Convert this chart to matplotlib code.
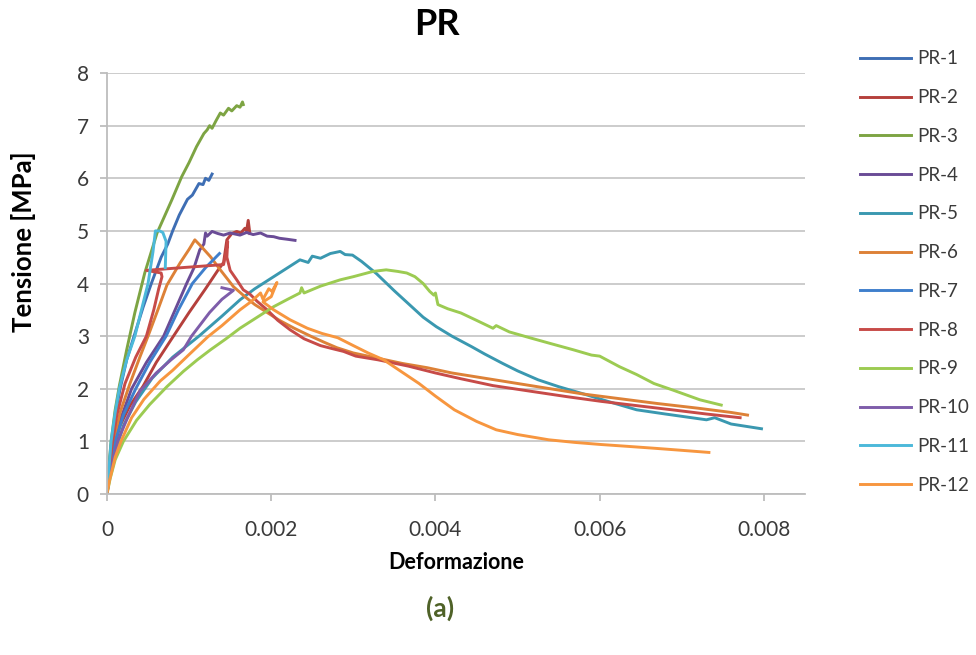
# plot.py - curve tensione/deformazione serie PR
import matplotlib
matplotlib.use("Agg")
import matplotlib.pyplot as plt

OUTPUT_IMG = "out.png"

labels = ["PR-1", "PR-2", "PR-3", "PR-4", "PR-5", "PR-6",
          "PR-7", "PR-8", "PR-9", "PR-10", "PR-11", "PR-12"]
colors = ["#3E6EB4", "#B5403C", "#7DA443", "#6A4C96", "#3A98B0", "#DD8137",
          "#3F7FCC", "#C74B48", "#9CCB52", "#7E5DAA", "#4CB9DA", "#F7963F"]

xticks = [0, 0.002, 0.004, 0.006, 0.008]
xtick_labels = ["0", "0.002", "0.004", "0.006", "0.008"]
yticks = [0, 1, 2, 3, 4, 5, 6, 7, 8]

# deformazione (eps) e tensione in MPa (sig)
eps_pr1 = [0, 0.00002, 0.00005, 0.0001, 0.00016, 0.00024, 0.00033, 0.00044, 0.00054,
           0.00066, 0.00074, 0.0008, 0.00088, 0.00098, 0.00104, 0.00112, 0.00117,
           0.0012, 0.00124, 0.00128]
sig_pr1 = [0, 0.4, 0.9, 1.5, 2.0, 2.55, 3.0, 3.55, 4.0, 4.5, 4.75, 5.0, 5.3, 5.6,
           5.68, 5.9, 5.88, 6.0, 5.96, 6.08]

eps_pr2 = [0, 0.00003, 0.00008, 0.00016, 0.00028, 0.00044, 0.0006, 0.00078, 0.001,
           0.0012, 0.00135, 0.00142, 0.00146, 0.00152, 0.00158, 0.00163, 0.00168,
           0.0017, 0.00172, 0.00174]
sig_pr2 = [0, 0.4, 0.85, 1.3, 1.68, 2.05, 2.5, 2.93, 3.45, 3.9, 4.25, 4.4, 4.83,
           4.95, 4.99, 4.96, 5.05, 5.0, 5.2, 4.95]

eps_pr3 = [0, 0.00002, 0.00005, 0.0001, 0.00015, 0.00024, 0.00034, 0.00046, 0.00061,
           0.00079, 0.00091, 0.001, 0.00109, 0.00118, 0.00122, 0.00125, 0.00128,
           0.00133, 0.00138, 0.00142, 0.00148, 0.00152, 0.00158, 0.00162, 0.00165,
           0.00166]
sig_pr3 = [0, 0.45, 1.0, 1.6, 2.05, 2.74, 3.45, 4.2, 4.96, 5.59, 6.03, 6.3, 6.6,
           6.85, 6.92, 7.0, 6.95, 7.1, 7.24, 7.2, 7.33, 7.28, 7.38, 7.35, 7.45, 7.4]

eps_pr4 = [0, 0.00003, 0.00008, 0.00016, 0.0003, 0.00048, 0.00069, 0.00083, 0.00097,
           0.00106, 0.00113, 0.00118, 0.0012, 0.00122, 0.00128, 0.00135, 0.00142,
           0.0015, 0.00162, 0.0017, 0.00178, 0.00187, 0.00195, 0.00203, 0.0021,
           0.0022, 0.00229]
sig_pr4 = [0, 0.4, 0.9, 1.4, 2.0, 2.5, 3.0, 3.5, 4.0, 4.3, 4.64, 4.75, 4.96, 4.9,
           4.99, 4.95, 4.92, 4.96, 4.92, 4.97, 4.93, 4.96, 4.9, 4.89, 4.86, 4.84, 4.82]

eps_pr5 = [0, 0.00003, 0.0001, 0.0002, 0.00035, 0.00055, 0.0008, 0.00112, 0.0014,
           0.00162, 0.0018, 0.00203, 0.0022, 0.00235, 0.00245, 0.0025, 0.0026,
           0.00272, 0.00284, 0.0029, 0.00299, 0.0031, 0.00328, 0.0035, 0.00371,
           0.00385, 0.00401, 0.0042, 0.00444, 0.0046, 0.00482, 0.005, 0.00525,
           0.0055, 0.00585, 0.0061, 0.00645, 0.0068, 0.0073, 0.0074, 0.0076, 0.00797]
sig_pr5 = [0, 0.3, 0.8, 1.3, 1.75, 2.2, 2.6, 3.0, 3.38, 3.69, 3.9, 4.13, 4.3, 4.45,
           4.4, 4.52, 4.48, 4.57, 4.61, 4.55, 4.54, 4.42, 4.19, 3.86, 3.56, 3.36,
           3.18, 3.0, 2.8, 2.66, 2.48, 2.34, 2.17, 2.04, 1.88, 1.76, 1.6, 1.52,
           1.41, 1.45, 1.33, 1.24]

eps_pr6 = [0, 0.00003, 0.00008, 0.00016, 0.00028, 0.0004, 0.0005, 0.00062, 0.00073,
           0.00089, 0.001, 0.00107, 0.00115, 0.00126, 0.00138, 0.00154, 0.00168,
           0.0018, 0.00195, 0.0021, 0.00228, 0.00248, 0.00265, 0.0028, 0.003,
           0.0033, 0.0036, 0.0039, 0.0042, 0.0046, 0.005, 0.0054, 0.0058, 0.0062,
           0.0067, 0.0072, 0.0076, 0.0078]
sig_pr6 = [0, 0.45, 1.0, 1.55, 2.1, 2.6, 3.0, 3.5, 3.97, 4.39, 4.65, 4.83, 4.7,
           4.51, 4.26, 3.94, 3.75, 3.6, 3.45, 3.3, 3.15, 3.0, 2.88, 2.78, 2.68,
           2.58, 2.48, 2.4, 2.3, 2.2, 2.1, 2.0, 1.9, 1.82, 1.72, 1.63, 1.55, 1.5]

eps_pr7 = [0, 0.00003, 0.0001, 0.0002, 0.00035, 0.00052, 0.00072, 0.00087, 0.00104,
           0.0012, 0.00137]
sig_pr7 = [0, 0.4, 1.0, 1.5, 2.0, 2.5, 3.0, 3.5, 4.0, 4.3, 4.57]

eps_pr8 = [0, 0.00002, 0.00006, 0.00012, 0.00022, 0.00035, 0.00048, 0.00057, 0.00063,
           0.00067, 0.00066, 0.00048, 0.0009, 0.00142, 0.00145, 0.00147, 0.00146,
           0.0015, 0.00158, 0.00166, 0.00174, 0.00183, 0.00195, 0.00208, 0.00223,
           0.0024, 0.0026, 0.00275, 0.00288, 0.00303, 0.0033, 0.00367, 0.004,
           0.00431, 0.0047, 0.00517, 0.0056, 0.00602, 0.0065, 0.00688, 0.0073,
           0.00771]
sig_pr8 = [0, 0.3, 0.9, 1.5, 2.1, 2.6, 3.0, 3.5, 3.9, 4.13, 4.2, 4.25, 4.3, 4.36,
           4.6, 4.8, 4.5, 4.25, 4.07, 3.88, 3.8, 3.66, 3.5, 3.3, 3.12, 2.95, 2.82,
           2.76, 2.71, 2.62, 2.55, 2.43, 2.3, 2.19, 2.06, 1.95, 1.85, 1.76, 1.67,
           1.6, 1.52, 1.45]

eps_pr9 = [0, 0.00004, 0.0001, 0.0002, 0.00036, 0.00052, 0.00073, 0.00093, 0.0011,
           0.00126, 0.00145, 0.00162, 0.0018, 0.00203, 0.0022, 0.00235, 0.00237,
           0.0024, 0.0026, 0.00284, 0.003, 0.00324, 0.0034, 0.00354, 0.00365,
           0.00375, 0.00385, 0.00393, 0.00398, 0.004, 0.00403, 0.00415, 0.00431,
           0.0045, 0.0047, 0.00474, 0.0049, 0.00517, 0.0054, 0.00568, 0.0059,
           0.006, 0.00624, 0.00645, 0.00666, 0.0069, 0.00722, 0.00748]
sig_pr9 = [0, 0.3, 0.65, 1.0, 1.4, 1.7, 2.04, 2.33, 2.55, 2.74, 2.95, 3.15, 3.33,
           3.56, 3.7, 3.82, 3.92, 3.82, 3.95, 4.07, 4.13, 4.23, 4.26, 4.23, 4.2,
           4.13, 4.0, 3.85, 3.78, 3.82, 3.6, 3.52, 3.44, 3.3, 3.15, 3.2, 3.08,
           2.96, 2.86, 2.74, 2.64, 2.62, 2.42, 2.27, 2.1, 1.97, 1.79, 1.69]

eps_pr10 = [0, 0.00003, 0.00013, 0.00025, 0.0004, 0.0006, 0.00078, 0.00093, 0.00103,
            0.00125, 0.0014, 0.00154, 0.0014]
sig_pr10 = [0, 0.35, 1.0, 1.45, 1.95, 2.3, 2.55, 2.74, 3.0, 3.45, 3.7, 3.87, 3.92]

eps_pr11 = [0, 0.00002, 0.00005, 0.0001, 0.00015, 0.00024, 0.00034, 0.00042, 0.0005,
            0.00056, 0.00059, 0.00064, 0.00068, 0.00072, 0.00071]
sig_pr11 = [0, 0.4, 1.0, 1.55, 2.0, 2.55, 3.0, 3.5, 4.0, 4.6, 5.0, 5.0, 4.97, 4.8,
            4.3]

eps_pr12 = [0, 0.00003, 0.0001, 0.00017, 0.0003, 0.00045, 0.00065, 0.0008, 0.001,
            0.00123, 0.0014, 0.00162, 0.00175, 0.00187, 0.0019, 0.00197, 0.00201,
            0.00207, 0.002, 0.0019, 0.00203, 0.00223, 0.00244, 0.00262, 0.00281,
            0.003, 0.00318, 0.00337, 0.00358, 0.0038, 0.004, 0.00423, 0.0045,
            0.00474, 0.005, 0.00538, 0.0057, 0.00602, 0.0063, 0.00666, 0.007,
            0.00733]
sig_pr12 = [0, 0.25, 0.7, 1.0, 1.45, 1.8, 2.15, 2.35, 2.65, 2.99, 3.2, 3.5, 3.65,
            3.82, 3.7, 3.9, 3.85, 4.02, 3.75, 3.65, 3.5, 3.31, 3.15, 3.05, 2.97,
            2.82, 2.68, 2.55, 2.33, 2.1, 1.86, 1.6, 1.38, 1.22, 1.13, 1.03, 0.98,
            0.94, 0.91, 0.87, 0.83, 0.79]

curves = [(eps_pr1, sig_pr1), (eps_pr2, sig_pr2), (eps_pr3, sig_pr3),
          (eps_pr4, sig_pr4), (eps_pr5, sig_pr5), (eps_pr6, sig_pr6),
          (eps_pr7, sig_pr7), (eps_pr8, sig_pr8), (eps_pr9, sig_pr9),
          (eps_pr10, sig_pr10), (eps_pr11, sig_pr11), (eps_pr12, sig_pr12)]


def main():
    plt.rcParams["font.family"] = "Lato"
    fig = plt.figure(figsize=(9.76, 6.55), dpi=100)
    ax = fig.add_axes([0.1096, 0.2458, 0.7152, 0.6427])

    for (eps, sig), lab, col in zip(curves, labels, colors):
        ax.plot(eps, sig, color=col, lw=2.1, label=lab, solid_joinstyle="round")

    ax.set_xlim(0, 0.0085)
    ax.set_ylim(0, 8)
    ax.set_xticks(xticks)
    ax.set_xticklabels(xtick_labels)
    ax.set_yticks(yticks)
    ax.grid(axis="y", color="#C8C8C8", lw=1.3)
    ax.set_axisbelow(True)
    for side in ["top", "right"]:
        ax.spines[side].set_visible(False)
    for side in ["left", "bottom"]:
        ax.spines[side].set_color("#BDBDBD")
        ax.spines[side].set_linewidth(1.3)
    ax.tick_params(axis="both", colors="#BDBDBD", labelcolor="#3A3A3A",
                   labelsize=15, length=5, width=1.3)
    ax.tick_params(axis="x", pad=14)
    ax.tick_params(axis="y", pad=8)

    ax.set_xlabel("Deformazione", fontsize=15.5, fontweight="bold", labelpad=8)
    ax.set_ylabel("Tensione [MPa]", fontsize=18.5, fontweight="bold")
    ax.yaxis.set_label_coords(-0.102, 0.60)
    fig.text(0.448, 0.962, "PR", fontsize=26, fontweight="bold",
             ha="center", va="center")
    fig.text(0.451, 0.072, "(a)", fontsize=19, fontweight="bold", color="#4F6228",
             ha="center", va="center")

    fig.legend(loc="upper left", bbox_to_anchor=(0.881, 0.923), frameon=False,
               fontsize=13.5, labelspacing=1.16, handlelength=2.75,
               handletextpad=0.3, borderpad=0, borderaxespad=0,
               labelcolor="#3A3A3A")

    fig.savefig(OUTPUT_IMG, dpi=100)
    print(f"Grafico salvato in {OUTPUT_IMG}")


if __name__ == "__main__":
    main()
